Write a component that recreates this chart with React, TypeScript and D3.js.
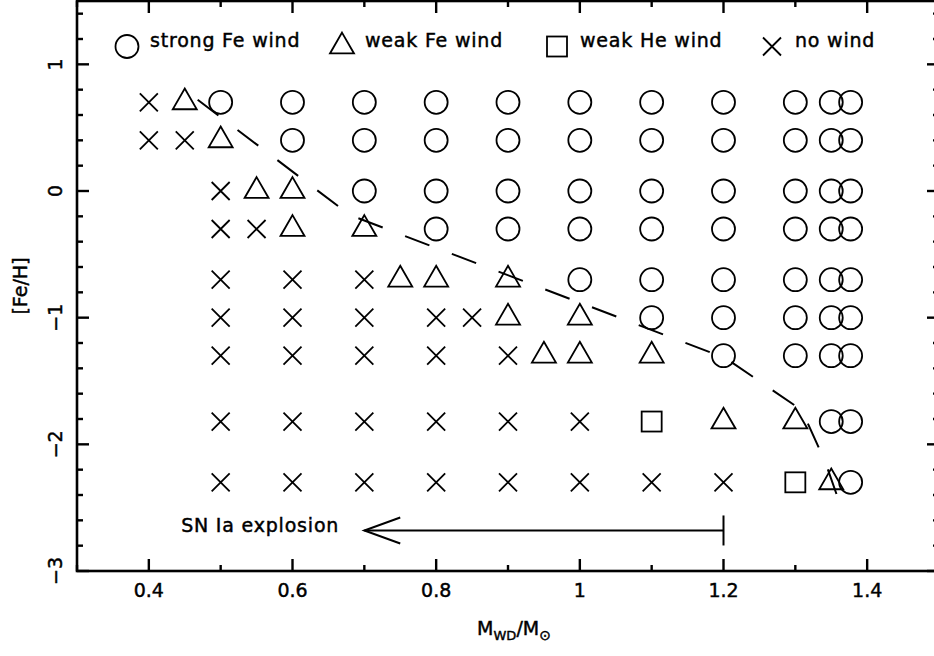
import React from "react";
import * as d3 from "d3";

// ---- data ----
const xMajorTicks = [0.4, 0.6, 0.8, 1.0, 1.2, 1.4];
const xTickLabels = ["0.4", "0.6", "0.8", "1", "1.2", "1.4"];
const yMajorTicks = [1, 0, -1, -2, -3];
const yTickLabels = ["1", "0", "\u22121", "\u22122", "\u22123"];

// rows: [Fe/H, masses]
const strongFeRows: [number, number[]][] = [
  [0.7, [0.5, 0.6, 0.7, 0.8, 0.9, 1.0, 1.1, 1.2, 1.3, 1.35, 1.377]],
  [0.4, [0.6, 0.7, 0.8, 0.9, 1.0, 1.1, 1.2, 1.3, 1.35, 1.377]],
  [0.0, [0.7, 0.8, 0.9, 1.0, 1.1, 1.2, 1.3, 1.35, 1.377]],
  [-0.3, [0.8, 0.9, 1.0, 1.1, 1.2, 1.3, 1.35, 1.377]],
  [-0.7, [1.0, 1.1, 1.2, 1.3, 1.35, 1.377]],
  [-1.0, [1.1, 1.2, 1.3, 1.35, 1.377]],
  [-1.3, [1.2, 1.3, 1.35, 1.377]],
  [-1.82, [1.35, 1.377]],
  [-2.3, [1.377]],
];
const weakFeRows: [number, number[]][] = [
  [0.7, [0.45]],
  [0.4, [0.5]],
  [0.0, [0.55, 0.6]],
  [-0.3, [0.6, 0.7]],
  [-0.7, [0.75, 0.8, 0.9]],
  [-1.0, [0.9, 1.0]],
  [-1.3, [0.95, 1.0, 1.1]],
  [-1.82, [1.2, 1.3]],
  [-2.3, [1.35]],
];
const weakHeRows: [number, number[]][] = [
  [-1.82, [1.1]],
  [-2.3, [1.3]],
];
const noWindRows: [number, number[]][] = [
  [0.7, [0.4]],
  [0.4, [0.4, 0.45]],
  [0.0, [0.5]],
  [-0.3, [0.5, 0.55]],
  [-0.7, [0.5, 0.6, 0.7]],
  [-1.0, [0.5, 0.6, 0.7, 0.8, 0.85]],
  [-1.3, [0.5, 0.6, 0.7, 0.8, 0.9]],
  [-1.82, [0.5, 0.6, 0.7, 0.8, 0.9, 1.0]],
  [-2.3, [0.5, 0.6, 0.7, 0.8, 0.9, 1.0, 1.1, 1.2]],
];
// dashed boundary line [mass, Fe/H]
const boundary: [number, number][] = [
  [0.468, 0.72],
  [0.68, -0.19],
  [1.203, -1.32],
  [1.309, -1.73],
  [1.341, -2.13],
  [1.359, -2.42],
];
// SN Ia explosion arrow
const snArrow = { from: 1.2, to: 0.7, feh: -2.68, label: "SN Ia explosion", labelX: 0.445 };
const legendItems = [
  { kind: "circle", label: "strong Fe wind" },
  { kind: "triangle", label: "weak Fe wind" },
  { kind: "square", label: "weak He wind" },
  { kind: "cross", label: "no wind" },
];

const flatten = (rows: [number, number[]][]) =>
  rows.flatMap(([feh, ms]) => ms.map((m) => ({ m, feh })));

const W = 934;
const H = 656;
const x = d3.scaleLinear().domain([0.3, 1.5]).range([77, 939]);
const y = d3.scaleLinear().domain([-3, 1.5]).range([571, 1]);

const FONT = "DejaVu Sans";
const SW = 1.8;
const TXT = { stroke: "#000", strokeWidth: 0.45 };

function Marker({ kind, cx, cy }: { kind: string; cx: number; cy: number }) {
  if (kind === "circle")
    return <circle cx={cx} cy={cy} r={11.5} fill="none" stroke="#000" strokeWidth={SW} />;
  if (kind === "triangle") {
    const s = 24;
    const h = (s * Math.sqrt(3)) / 2;
    const pts = [
      [cx, cy - (2 * h) / 3],
      [cx + s / 2, cy + h / 3],
      [cx - s / 2, cy + h / 3],
    ];
    return (
      <polygon
        points={pts.map((p) => p.join(",")).join(" ")}
        fill="none"
        stroke="#000"
        strokeWidth={SW}
        strokeLinejoin="miter"
      />
    );
  }
  if (kind === "square")
    return <rect x={cx - 10} y={cy - 10} width={20} height={20} fill="none" stroke="#000" strokeWidth={SW} />;
  const a = 9;
  return (
    <path
      d={`M${cx - a},${cy - a}L${cx + a},${cy + a}M${cx - a},${cy + a}L${cx + a},${cy - a}`}
      fill="none"
      stroke="#000"
      strokeWidth={SW}
    />
  );
}

export default function App() {
  const [x0, x1] = x.range();
  const [yb, yt] = y.range();
  const xMinor = d3.range(3, 15.5, 1).map((v) => v / 10).filter((v) => !xMajorTicks.some((t) => Math.abs(t - v) < 1e-6));
  const yMinor = d3.range(-15, 7.5, 1).map((v) => v / 5).filter((v) => !yMajorTicks.some((t) => Math.abs(t - v) < 1e-6));
  const line = d3
    .line<[number, number]>()
    .x((d) => x(d[0]))
    .y((d) => y(d[1]));
  const groups = [
    { kind: "circle", pts: flatten(strongFeRows) },
    { kind: "triangle", pts: flatten(weakFeRows) },
    { kind: "square", pts: flatten(weakHeRows) },
    { kind: "cross", pts: flatten(noWindRows) },
  ];
  const ay = y(snArrow.feh);
  const legendY = 46.5;
  return (
    <svg
      width={W}
      height={H}
      style={{ position: "absolute", left: 0, top: 0, background: "#fff" }}
      fontFamily={FONT}
    >
      <rect x={0} y={0} width={W} height={H} fill="#fff" />
      {/* frame */}
      <rect x={x0} y={yt} width={x1 - x0} height={yb - yt} fill="none" stroke="#000" strokeWidth={2.6} />
      {/* x ticks */}
      {xMajorTicks.map((t) => (
        <g key={"xm" + t} stroke="#000" strokeWidth={2.4}>
          <line x1={x(t)} x2={x(t)} y1={yb} y2={yb - 12} />
          <line x1={x(t)} x2={x(t)} y1={yt} y2={yt + 12} />
        </g>
      ))}
      {xMinor.map((t) => (
        <g key={"xn" + t} stroke="#000" strokeWidth={2.4}>
          <line x1={x(t)} x2={x(t)} y1={yb} y2={yb - 6} />
          <line x1={x(t)} x2={x(t)} y1={yt} y2={yt + 6} />
        </g>
      ))}
      {yMajorTicks.map((t) => (
        <g key={"ym" + t} stroke="#000" strokeWidth={2.4}>
          <line x1={x0} x2={x0 + 12} y1={y(t)} y2={y(t)} />
          <line x1={x1} x2={x1 - 12} y1={y(t)} y2={y(t)} />
        </g>
      ))}
      {yMinor.map((t) => (
        <g key={"yn" + t} stroke="#000" strokeWidth={2.4}>
          <line x1={x0} x2={x0 + 6} y1={y(t)} y2={y(t)} />
          <line x1={x1} x2={x1 - 6} y1={y(t)} y2={y(t)} />
        </g>
      ))}
      {/* tick labels */}
      {xMajorTicks.map((t, i) => (
        <text key={"xl" + t} x={x(t)} y={597} textAnchor="middle" fontSize={19} {...TXT}>
          {xTickLabels[i]}
        </text>
      ))}
      {yMajorTicks.map((t, i) => (
        <text
          key={"yl" + t}
          transform={`translate(62,${y(t)}) rotate(-90)`}
          textAnchor="middle"
          fontSize={19}
          {...TXT}
        >
          {yTickLabels[i]}
        </text>
      ))}
      {/* axis titles */}
      <text transform={`translate(27,${(yb + yt) / 2}) rotate(-90)`} textAnchor="middle" fontSize={19} {...TXT}>
        [Fe/H]
      </text>
      <text x={514} y={635} textAnchor="middle" fontSize={19} {...TXT}>
        M<tspan fontSize={13} dy={5}>WD</tspan>
        <tspan dy={-5}>/M</tspan>
        <tspan fontSize={14} dy={5}>{"\u2299"}</tspan>
      </text>
      {/* boundary */}
      <path d={line(boundary) || ""} fill="none" stroke="#000" strokeWidth={2} strokeDasharray="26 24" />
      {/* markers */}
      {groups.map((g) =>
        g.pts.map((p, i) => <Marker key={g.kind + i} kind={g.kind} cx={x(p.m)} cy={y(p.feh)} />)
      )}
      {/* legend */}
      {legendItems.map((it, i) => (
        <g key={it.kind}>
          <Marker kind={it.kind} cx={127 + i * 215} cy={legendY} />
          <text x={150 + i * 215} y={47} fontSize={19} letterSpacing={0.8} {...TXT}>
            {it.label}
          </text>
        </g>
      ))}
      {/* SN Ia arrow */}
      <g stroke="#000" strokeWidth={2} fill="none">
        <line x1={x(snArrow.from)} x2={x(snArrow.to)} y1={ay} y2={ay} />
        <line x1={x(snArrow.from)} x2={x(snArrow.from)} y1={ay - 15} y2={ay + 15} />
        <path
          d={`M${x(snArrow.to + 0.05)},${ay - 13}L${x(snArrow.to)},${ay}L${x(snArrow.to + 0.05)},${ay + 13}`}
        />
      </g>
      <text x={x(snArrow.labelX)} y={ay + 2} fontSize={19} letterSpacing={0.8} {...TXT}>
        {snArrow.label}
      </text>
    </svg>
  );
}
